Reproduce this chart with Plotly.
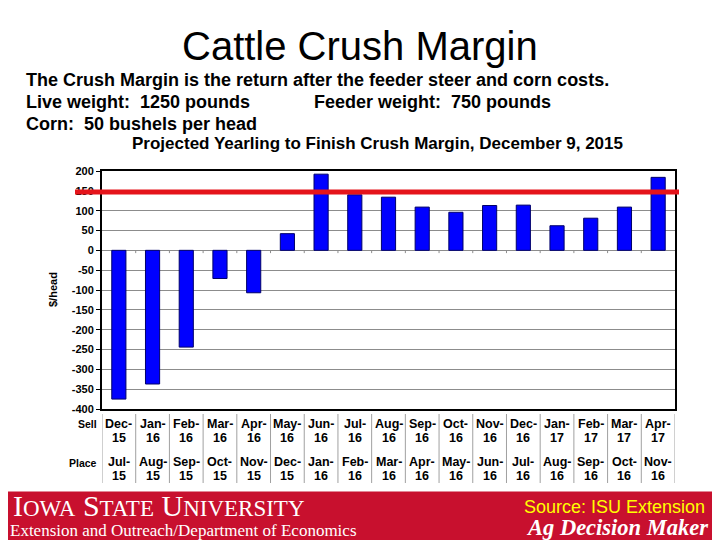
import plotly.graph_objects as go

sell = ["Dec-15","Jan-16","Feb-16","Mar-16","Apr-16","May-16","Jun-16","Jul-16","Aug-16",
        "Sep-16","Oct-16","Nov-16","Dec-16","Jan-17","Feb-17","Mar-17","Apr-17"]
place = ["Jul-15","Aug-15","Sep-15","Oct-15","Nov-15","Dec-15","Jan-16","Feb-16","Mar-16",
         "Apr-16","May-16","Jun-16","Jul-16","Aug-16","Sep-16","Oct-16","Nov-16"]
margin = [-375, -337, -244, -71, -107, 42, 192, 140, 134, 109, 96, 113, 114, 62, 81, 109, 184]
target_line = 147
y_ticks = [200, 150, 100, 50, 0, -50, -100, -150, -200, -250, -300, -350, -400]

# page has an 8px body margin; work in screen pixels and convert
O = 8
W, H = 720 - O, 540 - O
L, R, T, B = 102, 675, 171, 409  # plot area in screen pixels

def px(x):
    return (x - L) / (R - L)

def py(y):
    return (B - y) / (B - T)

fig = go.Figure()
fig.add_trace(go.Bar(
    x=list(range(len(sell))), y=margin,
    marker=dict(color="#0000FF", line=dict(color="#00006A", width=1)),
    width=0.42, hoverinfo="y",
))

fig.update_layout(
    width=W, height=H,
    margin=dict(l=L - O, r=720 - R, t=T - O, b=540 - B, pad=0),
    paper_bgcolor="white", plot_bgcolor="white",
    showlegend=False,
    font=dict(family="Arial, Liberation Sans, sans-serif", color="black"),
    xaxis=dict(range=[-0.5, len(sell) - 0.5], showticklabels=False, showgrid=False,
               zeroline=False, showline=True, linecolor="black", linewidth=2, mirror=True,
               ticks=""),
    yaxis=dict(range=[-400, 200], tickvals=y_ticks, ticktext=[f"<b>{v}</b>" for v in y_ticks],
               tickfont=dict(size=11, color="black"),
               showgrid=True, gridcolor="#8c8c8c", gridwidth=1,
               zeroline=True, zerolinecolor="#8c8c8c", zerolinewidth=1,
               showline=True, linecolor="black", linewidth=2, mirror=True,
               ticks="outside", ticklen=4, tickcolor="black"),
)

shapes = []
for i in range(len(sell) - 1):
    shapes.append(dict(type="line", xref="x", yref="y", x0=i + 0.5, x1=i + 0.5, y0=0, y1=-7,
                       line=dict(color="#8c8c8c", width=1)))
for i in range(len(sell) + 1):
    shapes.append(dict(type="line", xref="x", yref="paper", x0=i - 0.5, x1=i - 0.5,
                       y0=py(414), y1=py(483), line=dict(color="#a0a0a0", width=1)))
shapes.append(dict(type="line", xref="paper", yref="y", x0=px(75), x1=px(679),
                   y0=target_line, y1=target_line, line=dict(color="#E5141B", width=5)))
shapes.append(dict(type="rect", xref="paper", yref="paper", x0=px(0), x1=px(725),
                   y0=py(491.5), y1=py(545), fillcolor="#C8102E", line=dict(width=0), layer="below"))
fig.update_layout(shapes=shapes)

ann = []
def txt(x, y, text, size, xanchor="left", color="black", family="Arial, Liberation Sans, sans-serif", xref="paper"):
    ann.append(dict(x=x if xref != "paper" else px(x), y=py(y), xref=xref, yref="paper", text=text,
                    showarrow=False, xanchor=xanchor, yanchor="middle",
                    font=dict(size=size, color=color, family=family)))

txt(360, 46, "Cattle Crush Margin", 40, "center")
txt(24, 80, "<b>The Crush Margin is the return after the feeder steer and corn costs.</b>", 18)
txt(24, 102, "<b>Live weight:  1250 pounds</b>", 18)
txt(312, 102, "<b>Feeder weight:  750 pounds</b>", 18)
txt(24, 124, "<b>Corn:  50 bushels per head</b>", 18)
txt(377, 143, "<b>Projected Yearling to Finish Crush Margin, December 9, 2015</b>", 17, "center")

ann.append(dict(x=px(53), y=py(290), xref="paper", yref="paper", text="<b>$/head</b>",
                showarrow=False, textangle=-90, xanchor="center", yanchor="middle",
                font=dict(size=11, color="black")))

txt(99, 424, "<b>Sell</b>", 10.5, "right")
txt(99, 463, "<b>Place</b>", 10.5, "right")
for i, (s, p) in enumerate(zip(sell, place)):
    sm, sy = s.split("-")
    pm, pyr = p.split("-")
    txt(i, 424, f"<b>{sm}-</b>", 12.5, "center", xref="x")
    txt(i, 437.5, f"<b>{sy}</b>", 12.5, "center", xref="x")
    txt(i, 462, f"<b>{pm}-</b>", 12.5, "center", xref="x")
    txt(i, 475.5, f"<b>{pyr}</b>", 12.5, "center", xref="x")

serif = "Liberation Serif, DejaVu Serif, serif"
txt(11, 505.5, "I<span style='font-size:23px'>OWA</span> S<span style='font-size:23px'>TATE</span> "
               "U<span style='font-size:23px'>NIVERSITY</span>", 30, "left", "white", serif)
txt(8, 530.5, "Extension and Outreach/Department of Economics", 17, "left", "white", serif)
txt(707, 507, "Source: ISU Extension", 18, "right", "#FFFF00")
txt(710, 527, "<b><i>Ag Decision Maker</i></b>", 22.5, "right", "white", serif)

fig.update_layout(annotations=ann)
fig.write_html("out.html")
